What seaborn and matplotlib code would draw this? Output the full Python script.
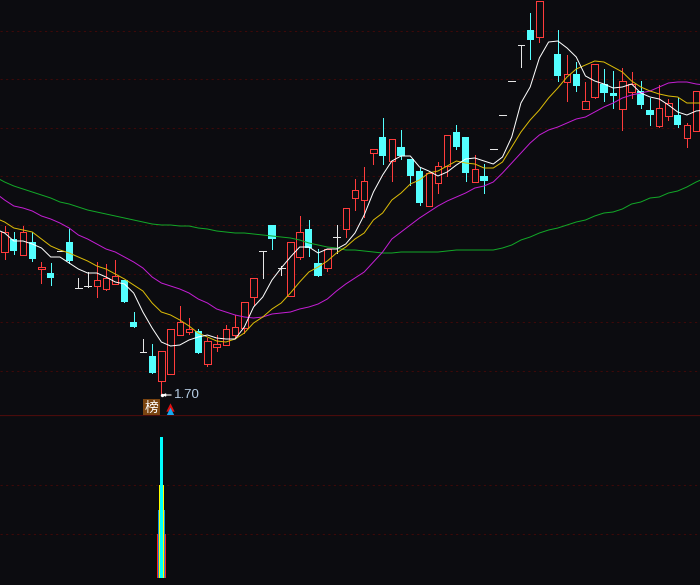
import seaborn as sns
import matplotlib.pyplot as plt
import numpy as np
import pandas as pd

# K线 (index 59 sits above the visible window)
open_ = [3.13, 3.26, 3.10, 3.23, 2.96, 2.92, 3.14, 3.23, 2.77, 2.79,
         2.79, 2.76, 2.81, 2.85, 2.43, 2.13, 2.09, 1.84, 1.91, 2.30,
         2.33, 2.34, 2.01, 2.18, 2.20, 2.30, 2.37, 2.68, 3.14, 3.40,
         2.97, 2.69, 3.08, 3.36, 3.02, 2.97, 3.28, 3.36, 3.67, 3.65,
         4.12, 4.28, 4.04, 4.18, 4.06, 3.94, 3.59, 3.82, 3.99, 4.33,
         4.28, 3.83, 3.89, 4.16, 4.50, 4.84, 5.20, 5.35, 5.28, 5.70,
         5.11, 4.83, 4.91, 4.56, 4.68, 4.81, 4.72, 4.56, 4.73, 4.74,
         4.55, 4.39, 4.49, 4.50, 4.27, 4.34]
close = [3.33, 3.14, 3.33, 3.06, 2.98, 2.87, 3.14, 3.04, 2.77, 2.79,
         2.85, 2.87, 2.89, 2.63, 2.38, 2.13, 1.92, 2.14, 2.36, 2.43,
         2.36, 2.12, 2.24, 2.21, 2.36, 2.38, 2.63, 2.87, 3.14, 3.26,
         2.97, 3.23, 3.33, 3.17, 2.89, 3.16, 3.28, 3.57, 3.75, 3.84,
         4.16, 4.09, 4.26, 4.09, 3.89, 3.62, 3.92, 3.99, 4.30, 4.18,
         3.92, 3.96, 3.84, 4.16, 4.50, 4.84, 5.20, 5.25, 5.64, 5.85,
         4.89, 4.91, 4.79, 4.64, 5.01, 4.72, 4.69, 4.84, 4.81, 4.60,
         4.50, 4.57, 4.62, 4.40, 4.40, 4.74]
high = [3.39, 3.33, 3.39, 3.33, 3.03, 3.02, 3.14, 3.36, 2.87, 2.93,
        3.03, 3.01, 3.05, 2.85, 2.53, 2.26, 2.21, 2.14, 2.36, 2.59,
        2.47, 2.36, 2.27, 2.30, 2.40, 2.50, 2.63, 2.87, 3.14, 3.40,
        2.99, 3.23, 3.49, 3.45, 3.16, 3.16, 3.40, 3.57, 3.86, 3.98,
        4.16, 4.47, 4.26, 4.35, 4.06, 3.97, 3.92, 4.03, 4.30, 4.40,
        4.28, 4.10, 4.01, 4.16, 4.50, 4.84, 5.20, 5.52, 5.64, 5.90,
        5.35, 5.10, 5.03, 4.83, 5.01, 4.96, 4.94, 4.97, 4.93, 4.84,
        4.67, 4.80, 4.66, 4.67, 4.42, 4.74]
low = [3.06, 3.11, 3.10, 3.04, 2.82, 2.80, 3.14, 3.02, 2.77, 2.78,
       2.68, 2.75, 2.81, 2.63, 2.38, 2.13, 1.92, 1.70, 1.91, 2.30,
       2.31, 2.12, 1.99, 2.14, 2.20, 2.28, 2.32, 2.60, 2.87, 3.16,
       2.90, 2.69, 3.06, 3.09, 2.89, 2.94, 3.12, 3.28, 3.55, 3.48,
       4.01, 4.01, 3.84, 4.06, 3.80, 3.60, 3.59, 3.72, 3.89, 4.16,
       3.84, 3.83, 3.72, 4.16, 4.50, 4.84, 4.98, 5.06, 5.23, 5.68,
       4.84, 4.64, 4.74, 4.56, 4.67, 4.64, 4.57, 4.35, 4.67, 4.57,
       4.40, 4.38, 4.45, 4.38, 4.18, 4.34]

# 均线, from one bar before the first candle to one bar after the last
ma_white = [3.36, 3.32, 3.24, 3.24, 3.21, 3.17, 3.08, 3.08, 3.02, 2.96,
            2.92, 2.92, 2.88, 2.83, 2.81, 2.72, 2.53, 2.37, 2.23, 2.19,
            2.20, 2.25, 2.28, 2.30, 2.27, 2.26, 2.26, 2.38, 2.58, 2.68,
            2.85, 2.97, 3.08, 3.18, 3.18, 3.12, 3.16, 3.16, 3.21, 3.32,
            3.50, 3.73, 3.90, 4.04, 4.09, 4.09, 3.98, 3.94, 3.89, 3.93,
            4.00, 4.06, 4.07, 4.04, 4.01, 4.08, 4.28, 4.62, 4.78, 5.07,
            5.23, 5.24, 5.17, 5.08, 4.89, 4.84, 4.81, 4.77, 4.78, 4.81,
            4.72, 4.68, 4.66, 4.60, 4.53, 4.50, 4.54, 4.55]
ma_yellow = [3.47, 3.43, 3.37, 3.35, 3.33, 3.26, 3.19, 3.15, 3.12, 3.08,
             3.04, 2.99, 2.96, 2.91, 2.86, 2.80, 2.74, 2.62, 2.53, 2.50,
             2.45, 2.39, 2.32, 2.28, 2.24, 2.23, 2.26, 2.32, 2.42, 2.48,
             2.56, 2.62, 2.72, 2.83, 2.93, 2.98, 3.04, 3.12, 3.18, 3.26,
             3.32, 3.45, 3.52, 3.65, 3.72, 3.81, 3.85, 3.92, 3.94, 3.99,
             4.04, 4.02, 4.01, 3.97, 3.97, 4.03, 4.18, 4.33, 4.45, 4.55,
             4.67, 4.77, 4.88, 4.96, 5.00, 5.04, 5.03, 4.98, 4.93, 4.84,
             4.78, 4.74, 4.71, 4.69, 4.68, 4.62, 4.62, 4.62]
ma_magenta = [3.72, 3.65, 3.59, 3.57, 3.54, 3.49, 3.46, 3.42, 3.37, 3.30,
              3.26, 3.21, 3.16, 3.13, 3.08, 3.03, 2.97, 2.88, 2.82, 2.79,
              2.76, 2.72, 2.66, 2.62, 2.56, 2.53, 2.50, 2.48, 2.47, 2.48,
              2.51, 2.52, 2.53, 2.56, 2.58, 2.61, 2.66, 2.74, 2.81, 2.87,
              2.93, 3.03, 3.13, 3.26, 3.33, 3.40, 3.47, 3.53, 3.59, 3.64,
              3.68, 3.72, 3.77, 3.79, 3.83, 3.92, 4.02, 4.12, 4.22, 4.30,
              4.35, 4.38, 4.42, 4.46, 4.48, 4.53, 4.58, 4.62, 4.67, 4.70,
              4.72, 4.74, 4.78, 4.82, 4.83, 4.83, 4.81, 4.80]
ma_green = [3.88, 3.83, 3.79, 3.76, 3.73, 3.70, 3.67, 3.63, 3.61, 3.58,
            3.55, 3.53, 3.51, 3.49, 3.47, 3.45, 3.43, 3.41, 3.40, 3.40,
            3.39, 3.39, 3.37, 3.36, 3.34, 3.33, 3.32, 3.32, 3.31, 3.30,
            3.29, 3.28, 3.27, 3.25, 3.22, 3.20, 3.18, 3.17, 3.15, 3.15,
            3.14, 3.13, 3.12, 3.12, 3.13, 3.13, 3.13, 3.13, 3.13, 3.14,
            3.15, 3.15, 3.15, 3.15, 3.15, 3.17, 3.20, 3.25, 3.28, 3.32,
            3.35, 3.37, 3.40, 3.43, 3.45, 3.49, 3.52, 3.53, 3.56, 3.61,
            3.63, 3.67, 3.68, 3.72, 3.74, 3.78, 3.83, 3.87]

# 下方指标: one spike, four nested layers
spike_bar = 17
spike_values = [44, 68, 93, 141]
spike_widths = [0.98, 0.76, 0.54, 0.33]
spike_colors = ["#ff2020", "#1290d8", "#ffff00", "#00ffff"]

price_grid = [5.345, 4.859, 4.373, 3.887, 3.40, 2.915, 2.43, 1.945]
lower_grid = [93, 44]

BG = "#0c0c10"
RED = "#ff3c3c"
CYAN = "#54ffff"
GRID = "#3c0a0a"
X_RANGE = (-0.499, 75.42)
THIN = 0.45  # aliased lines come out one pixel wide at this width

sns.set_theme(style="dark")
plt.rcParams['font.family'] = ['Liberation Sans', 'Noto Sans CJK SC', 'DejaVu Sans']

fig = plt.figure(figsize=(7.0, 5.85), dpi=100, facecolor=BG)
ax = fig.add_axes([0, 170 / 585, 1, 415 / 585], facecolor=BG)
ax2 = fig.add_axes([0, 0, 1, 170 / 585], facecolor=BG)

bars = np.arange(len(close))
o = np.array(open_)
c = np.array(close)
hi = np.array(high)
lo = np.array(low)
up = c > o
down = c < o
flat = c == o

for level in price_grid:
    ax.axhline(level, color=GRID, lw=0.8, ls=(0, (2, 3)), zorder=1)

# wicks first, bodies cover them
ax.vlines(bars[up], lo[up], hi[up], color=RED, lw=THIN, antialiased=False, zorder=2)
ax.vlines(bars[down], lo[down], hi[down], color=CYAN, lw=THIN, antialiased=False, zorder=2)
ax.vlines(bars[flat], lo[flat], hi[flat], color="#e6e6e6", lw=THIN, antialiased=False, zorder=2)
ax.hlines(c[flat], bars[flat] - 0.36, bars[flat] + 0.36, color="#e6e6e6", lw=THIN, antialiased=False, zorder=2)
ax.bar(bars[up], (c - o)[up], bottom=o[up], width=0.7, facecolor=BG, edgecolor=RED, linewidth=THIN,
       antialiased=False, zorder=3)
ax.bar(bars[down], (o - c)[down], bottom=c[down], width=0.78, color=CYAN, linewidth=0,
       antialiased=False, zorder=3)

ma_x = np.arange(-1, len(close) + 1)
ma_df = pd.DataFrame({
    "bar": np.tile(ma_x, 4),
    "price": ma_green + ma_magenta + ma_yellow + ma_white,
    "line": np.repeat(["green", "magenta", "yellow", "white"], len(ma_x)),
})
sns.lineplot(data=ma_df, x="bar", y="price", hue="line", ax=ax, legend=False, errorbar=None,
             palette={"green": "#12a828", "magenta": "#c41ed4", "yellow": "#dcbc08", "white": "#ffffff"},
             lw=0.72, zorder=4)

# low marker
ax.annotate("1.70", xy=(spike_bar + 0.1, low[spike_bar]), xytext=(spike_bar + 1.42, low[spike_bar]),
            color="#b8cfe6", fontsize=9.5, va="center", ha="left", zorder=6,
            arrowprops=dict(arrowstyle="-|>", color="#ffffff", lw=0.8, mutation_scale=4,
                            shrinkA=0, shrinkB=0))
ax.scatter([spike_bar + 0.1], [low[spike_bar]], marker="o", s=6, color="#ffffff", linewidths=0, zorder=6)
ax.text(15.9, 1.575, "榜", color="#ffffff", fontsize=10, ha="center", va="center", zorder=6,
        bbox=dict(boxstyle="square,pad=0.1", facecolor="#7a4410", edgecolor="none"))
ax.scatter([17.9], [1.585], marker="^", s=36, color="#e01010", linewidths=0, zorder=6)
ax.scatter([17.9], [1.545], marker="^", s=30, color="#18a8f0", linewidths=0, zorder=6)

ax.set_xlim(*X_RANGE)
ax.set_ylim(1.50, 5.65)
ax.set_xlabel("")
ax.set_ylabel("")
ax.set_xticks([])
ax.set_yticks([])
for side in ax.spines:
    ax.spines[side].set_visible(False)

for level in lower_grid:
    ax2.axhline(level, color=GRID, lw=0.8, ls=(0, (2, 3)), zorder=1)
for value, width, colour in zip(spike_values, spike_widths, spike_colors):
    ax2.bar([spike_bar], [value], width=width, color=colour, linewidth=0, antialiased=False, zorder=3)
ax2.axhline(163, color="#4a0c0c", lw=1.6, zorder=2)
ax2.set_xlim(*X_RANGE)
ax2.set_ylim(-7, 163)
ax2.set_xticks([])
ax2.set_yticks([])
for side in ax2.spines:
    ax2.spines[side].set_visible(False)

fig.savefig("out.png", dpi=100, facecolor=BG)
